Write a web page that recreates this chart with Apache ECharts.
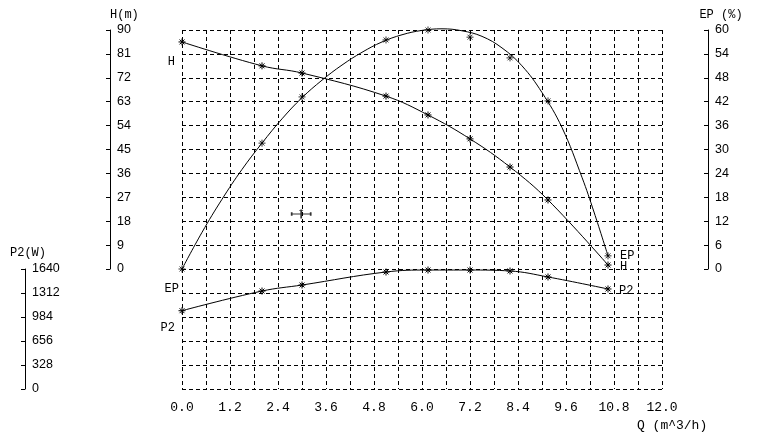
<!DOCTYPE html>
<html>
<head>
<meta charset="utf-8">
<script src="https://cdn.jsdelivr.net/npm/echarts@6/dist/echarts.min.js"></script>
<style>html,body{margin:0;padding:0;background:#fff}#c{width:757px;height:442px}</style>
</head>
<body>
<div id="c"></div>
<script>
// ---- data ----
const xTicks = [0, 1.2, 2.4, 3.6, 4.8, 6.0, 7.2, 8.4, 9.6, 10.8, 12.0];
const hTicks = [0, 9, 18, 27, 36, 45, 54, 63, 72, 81, 90];
const epTicks = [0, 6, 12, 18, 24, 30, 36, 42, 48, 54, 60];
const p2Ticks = [0, 328, 656, 984, 1312, 1640];

const qMarks  = [0, 2.0, 3.0, 5.1, 6.15, 7.2, 8.2, 9.15, 10.65];
const hMarks  = [85.5, 76.5, 73.8, 65.1, 58.0, 49.0, 38.4, 26.0, 1.5];
const epMarks = [0, 31.6, 43.2, 57.5, 60.0, 58.2, 53.0, 42.2, 3.3];
const p2Marks = [1070, 1339, 1421, 1599, 1626, 1626, 1613, 1531, 1367];

const epCurveQ = [0, 0.5, 1, 1.5, 2, 2.5, 3, 3.5, 4, 4.5, 5, 5.5, 6, 6.5, 7, 7.5, 8, 8.5, 9, 9.5, 10, 10.3, 10.65];
const epCurve  = [0, 9.2, 17.5, 25, 31.6, 37.7, 43.0, 47.4, 51.2, 54.4, 57.0, 58.8, 59.9, 60.3, 59.8, 58.4, 55.5, 51, 44.3, 35.5, 23, 14.3, 3.3];

const dutyQ = [2.98];
const dutyH = [20.7];

// ---- styling ----
const BLACK = '#000';
const dash = {color: BLACK, width: 1, type: [4, 3]};
const star = 'path://M0,5L10,5M5,0L5,10M1.5,1.5L8.5,8.5M8.5,1.5L1.5,8.5';
const dutySym = 'path://M0,5L20,5M0,3L0,7M20,3L20,7M10,0L10,10M8,1L12,1';
const numFont = {fontFamily: 'Liberation Sans', fontSize: 12.5, color: BLACK};
const monoFont = {fontFamily: 'Liberation Mono', fontSize: 13, color: BLACK};
const lblBase = {show: true, color: BLACK, fontFamily: 'Liberation Mono', fontSize: 12};

function pairs(xs, ys) { return xs.map((x, i) => [x, ys[i]]); }
function withLabels(data, first, last) {
  return data.map((d, i) => {
    if (i === 0 && first) return {value: d, label: Object.assign({}, lblBase, {position: 'left', distance: 3}, first)};
    if (i === data.length - 1 && last) return {value: d, label: Object.assign({}, lblBase, {position: 'right', distance: 3}, last)};
    return d;
  });
}

const xCommon = {
  type: 'value', min: xTicks[0], max: xTicks[xTicks.length - 1], interval: 1.2,
  axisLine: {show: false}, axisTick: {show: false},
  splitLine: {show: true, lineStyle: dash},
  minorTick: {show: false, splitNumber: 2},
  minorSplitLine: {show: true, lineStyle: dash}
};

const axisLineStyle = {show: true, onZero: false, lineStyle: {color: BLACK, width: 1}};

const option = {
  animation: false,
  backgroundColor: '#fff',
  grid: [
    {left: 182, right: 95, top: 30, height: 239},
    {left: 182, right: 95, top: 269, height: 120}
  ],
  xAxis: [
    Object.assign({}, xCommon, {gridIndex: 0, axisLabel: {show: false}}),
    Object.assign({}, xCommon, {
      gridIndex: 1,
      axisLabel: Object.assign({show: true, margin: 12, formatter: v => v.toFixed(1)}, monoFont),
      name: 'Q (m^3/h)', nameLocation: 'end', nameGap: -25,
      nameTextStyle: Object.assign({align: 'left', verticalAlign: 'top', padding: [30, 0, 0, 0]}, monoFont)
    })
  ],
  yAxis: [
    {
      type: 'value', gridIndex: 0, position: 'left', offset: 72,
      min: hTicks[0], max: hTicks[hTicks.length - 1], interval: 9,
      axisLine: axisLineStyle,
      axisTick: {show: true, length: 4, lineStyle: {color: BLACK}},
      axisLabel: Object.assign({inside: true, margin: 7, formatter: v => String(v)}, numFont),
      splitLine: {show: true, lineStyle: dash},
      name: 'H(m)', nameLocation: 'end', nameGap: 9,
      nameTextStyle: Object.assign({}, monoFont, {fontSize: 12, align: 'left'})
    },
    {
      type: 'value', gridIndex: 0, position: 'right', offset: 46,
      min: epTicks[0], max: epTicks[epTicks.length - 1], interval: 6,
      axisLine: axisLineStyle,
      axisTick: {show: true, inside: true, length: 4, lineStyle: {color: BLACK}},
      axisLabel: Object.assign({margin: 7, formatter: v => String(v)}, numFont),
      splitLine: {show: false},
      name: 'EP (%)', nameLocation: 'end', nameGap: 9,
      nameTextStyle: Object.assign({}, monoFont, {fontSize: 12, align: 'center', padding: [0, 0, 0, 26]})
    },
    {
      type: 'value', gridIndex: 1, position: 'left', offset: 157,
      min: p2Ticks[0], max: p2Ticks[p2Ticks.length - 1], interval: 328,
      axisLine: axisLineStyle,
      axisTick: {show: true, length: 4, lineStyle: {color: BLACK}},
      axisLabel: Object.assign({inside: true, margin: 7, formatter: v => String(v)}, numFont),
      splitLine: {show: true, lineStyle: dash},
      name: 'P2(W)', nameLocation: 'end', nameGap: 10,
      nameTextStyle: Object.assign({}, monoFont, {fontSize: 12, align: 'center', padding: [0, 0, 0, 6]})
    }
  ],
  series: [
    {
      name: 'H', type: 'line', xAxisIndex: 0, yAxisIndex: 0, smooth: 0.4, clip: false,
      data: withLabels(pairs(qMarks, hMarks), {formatter: 'H', offset: [0, 20]}, {formatter: 'H', offset: [5, 2]}),
      symbol: star, symbolSize: 7,
      lineStyle: {color: BLACK, width: 1},
      itemStyle: {color: BLACK, borderColor: BLACK, borderWidth: 1}
    },
    {
      name: 'EP', type: 'line', xAxisIndex: 0, yAxisIndex: 1, smooth: 0.4, clip: false,
      data: withLabels(pairs(epCurveQ, epCurve), {formatter: 'EP', offset: [0, 20]}, {formatter: 'EP', offset: [9, 0]}),
      symbol: 'circle', symbolSize: 0, showSymbol: true,
      lineStyle: {color: BLACK, width: 1},
      itemStyle: {color: 'rgba(0,0,0,0)'}
    },
    {
      name: 'EP marks', type: 'scatter', xAxisIndex: 0, yAxisIndex: 1, clip: false,
      data: pairs(qMarks, epMarks),
      symbol: star, symbolSize: 7,
      itemStyle: {color: BLACK, borderColor: BLACK, borderWidth: 1}
    },
    {
      name: 'P2', type: 'line', xAxisIndex: 1, yAxisIndex: 2, smooth: 0.4, clip: false,
      data: withLabels(pairs(qMarks, p2Marks), {formatter: 'P2', offset: [0, 17]}, {formatter: 'P2', offset: [4, 2]}),
      symbol: star, symbolSize: 7,
      lineStyle: {color: BLACK, width: 1},
      itemStyle: {color: BLACK, borderColor: BLACK, borderWidth: 1}
    },
    {
      name: 'duty', type: 'scatter', xAxisIndex: 0, yAxisIndex: 0,
      data: pairs(dutyQ, dutyH),
      symbol: dutySym, symbolSize: [19, 9],
      itemStyle: {color: BLACK, borderColor: BLACK, borderWidth: 1.2}
    }
  ]
};

const chart = echarts.init(document.getElementById('c'), null, {renderer: 'canvas'});
chart.setOption(option);
</script>
</body>
</html>
